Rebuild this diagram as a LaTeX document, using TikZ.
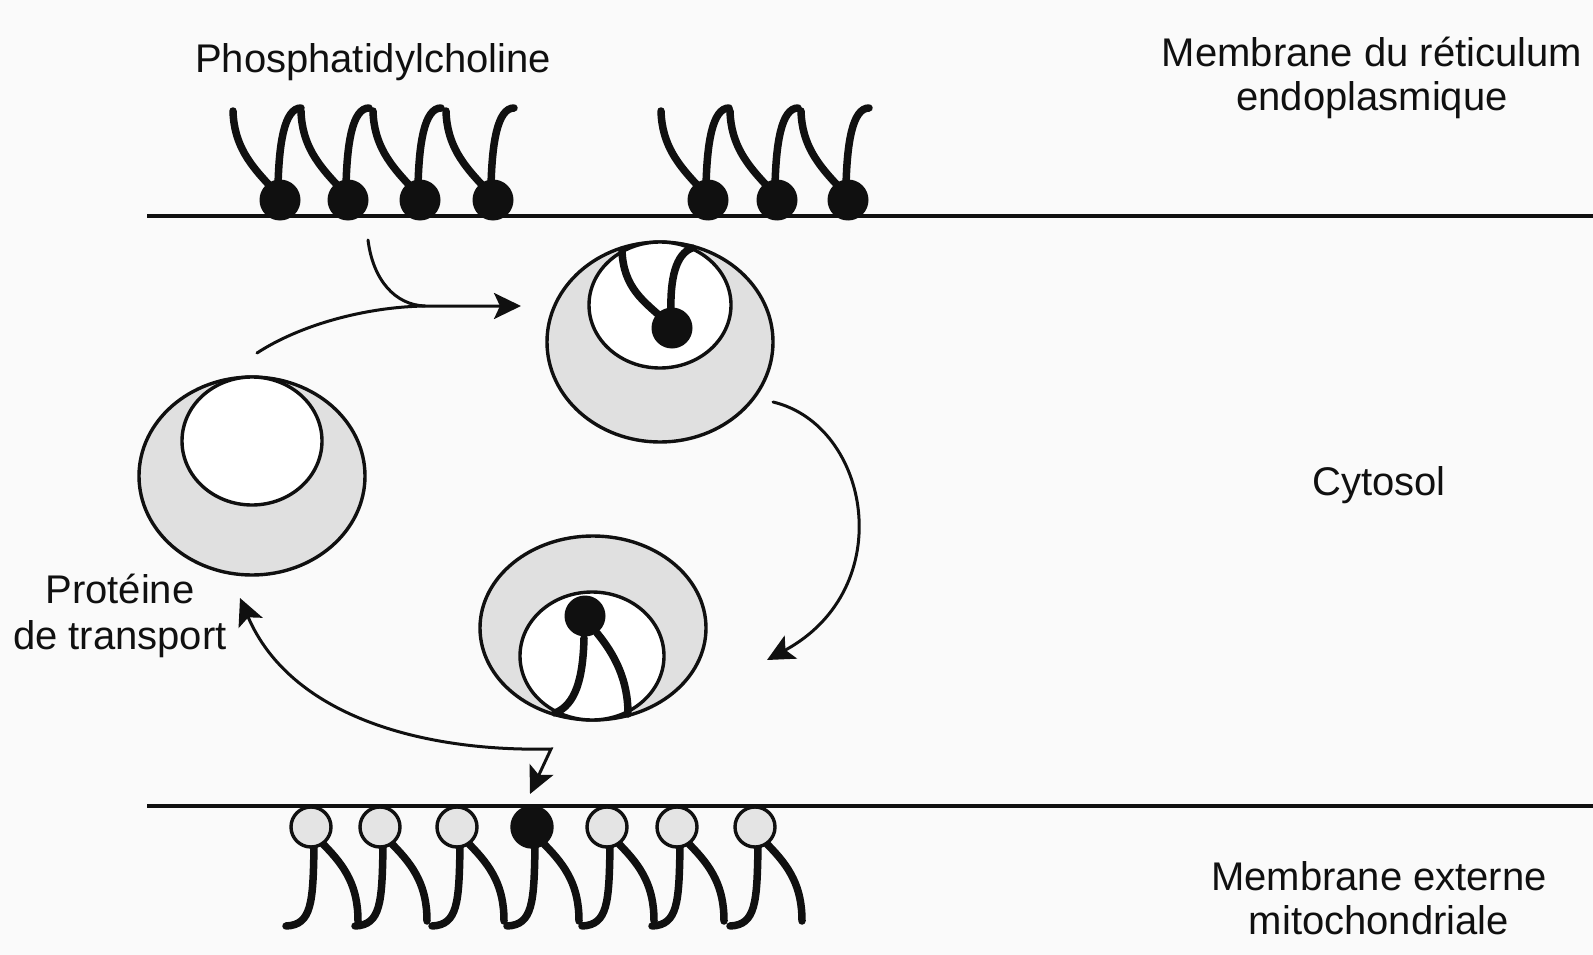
\documentclass[tikz,border=0pt]{standalone}
\usepackage{fontspec}
\setmainfont{Liberation Sans}
\usetikzlibrary{arrows.meta}
\definecolor{paper}{HTML}{FAFAFA}
\definecolor{ink}{HTML}{101010}
\definecolor{vesgray}{HTML}{E0E0E0}
\definecolor{headgray}{HTML}{E4E4E4}

\tikzset{
  headfill/.store in=\lipidhead, headfill=headgray,
  memline/.style={line width=3.4pt, draw=ink},
  rim/.style={line width=3.4pt, draw=ink},
  tailline/.style={line width=7.5pt, draw=ink, line cap=round},
  flowline/.style={line width=3pt, draw=ink, line cap=round},
  flowarrow/.style={flowline, -{Stealth[length=27pt,width=26pt,inset=6pt]}},
  twoway/.style={flowline, {Stealth[length=27pt,width=26pt,inset=6pt]}-{Stealth[length=27pt,width=26pt,inset=6pt]}},
  lbl/.style={font=\fontsize{40}{46}\selectfont, text=ink, inner sep=0pt, anchor=base},
  % phospholipid of the ER membrane: black head, two tails pointing up
  erlipid/.pic={
    \draw[tailline] (-47,-89) .. controls (-46,-55) and (-30,-35) .. (-8,-12);
    \draw[tailline] (-2,-14) .. controls (-1,-55) and (4,-92) .. (21,-92);
    \fill[ink] (0,0) circle[radius=20.5pt];
  },
  % phospholipid of the outer mitochondrial membrane: tails pointing down
  mitolipid/.pic={
    \draw[tailline] (3,20) .. controls (2,75) and (1,98) .. (-25,99);
    \draw[tailline] (12,17) .. controls (35,40) and (47,60) .. (47,94);
    \filldraw[rim, fill=\lipidhead] (0,0) circle[radius=20pt];
  }
}

\begin{document}
\begin{tikzpicture}[x=1pt,y=-1pt]
  \fill[paper] (0,0) rectangle (1593,955);
  \useasboundingbox (0,0) rectangle (1593,955);

  % membranes
  \coordinate (erL) at (147,216);
  \coordinate (erR) at (1593,216);
  \coordinate (mitoL) at (147,806);
  \coordinate (mitoR) at (1593,806);
  \draw[memline] (erL) -- (erR);
  \draw[memline] (mitoL) -- (mitoR);

  % ER phospholipids
  \foreach \hx in {280,348,420,493,708,777,848}
    \pic at (\hx,200) {erlipid};

  % mitochondrial phospholipids, the fourth one is the transferred lipid
  \foreach \hx in {311,380,457,607,677,755}
    \pic at (\hx,827) {mitolipid};
  \pic[headfill=ink] at (532,827) {mitolipid};

  % empty transport protein (left)
  \filldraw[rim, fill=vesgray] (252,476) ellipse[x radius=113pt, y radius=99pt];
  \filldraw[rim, fill=white] (252,441) ellipse[x radius=70pt, y radius=64pt];

  % protein loading a lipid at the ER
  \filldraw[rim, fill=vesgray] (660,342) ellipse[x radius=113pt, y radius=100pt];
  \filldraw[rim, fill=white] (660,305) ellipse[x radius=71pt, y radius=63pt];
  \draw[tailline] (622,250) .. controls (623,288) and (645,302) .. (662,318);
  \draw[tailline] (671,312) .. controls (670,278) and (676,254) .. (692,248);
  \fill[ink] (672,328) circle[radius=20.5pt];

  % protein carrying the lipid to the mitochondrion
  \filldraw[rim, fill=vesgray] (593,628) ellipse[x radius=113pt, y radius=92pt];
  \filldraw[rim, fill=white] (592,656) ellipse[x radius=72pt, y radius=64pt];
  \draw[tailline] (584,638) .. controls (583,680) and (575,705) .. (555,713);
  \draw[tailline] (597,633) .. controls (615,655) and (628,680) .. (628,714);
  \fill[ink] (585,616) circle[radius=20.5pt];

  % transfer cycle
  \coordinate (erStart) at (368,240);
  \coordinate (lvStart) at (257,353);
  \coordinate (merge) at (425,306);
  \coordinate (tvIn) at (521,306);
  \coordinate (tvOut) at (773,402);
  \coordinate (bvIn) at (767,660);
  \coordinate (split) at (551,749);
  \coordinate (lvIn) at (240,598);
  \coordinate (mitoIn) at (530,794);

  \draw[flowline] (erStart) .. controls (373,280) and (395,305) .. (merge);
  \draw[flowarrow] (lvStart) .. controls (300,325) and (365,307) .. (merge) -- (tvIn);
  \draw[flowarrow] (tvOut) .. controls (870,425) and (900,588) .. (bvIn);
  \draw[twoway] (lvIn) .. controls (290,715) and (420,752) .. (split) -- (mitoIn);

  % labels
  \node[lbl] (phos) at (373,73) {Phosphatidylcholine};
  \node[lbl] (erA) at (1372,67) {Membrane du réticulum};
  \node[lbl] (erB) at (1372,111) {endoplasmique};
  \node[lbl] (cyto) at (1379,495) {Cytosol};
  \node[lbl] (protA) at (120,603) {Protéine};
  \node[lbl] (protB) at (120,649) {de transport};
  \node[lbl] (mitoA) at (1379,890) {Membrane externe};
  \node[lbl] (mitoB) at (1379,934) {mitochondriale};
\end{tikzpicture}
\end{document}
